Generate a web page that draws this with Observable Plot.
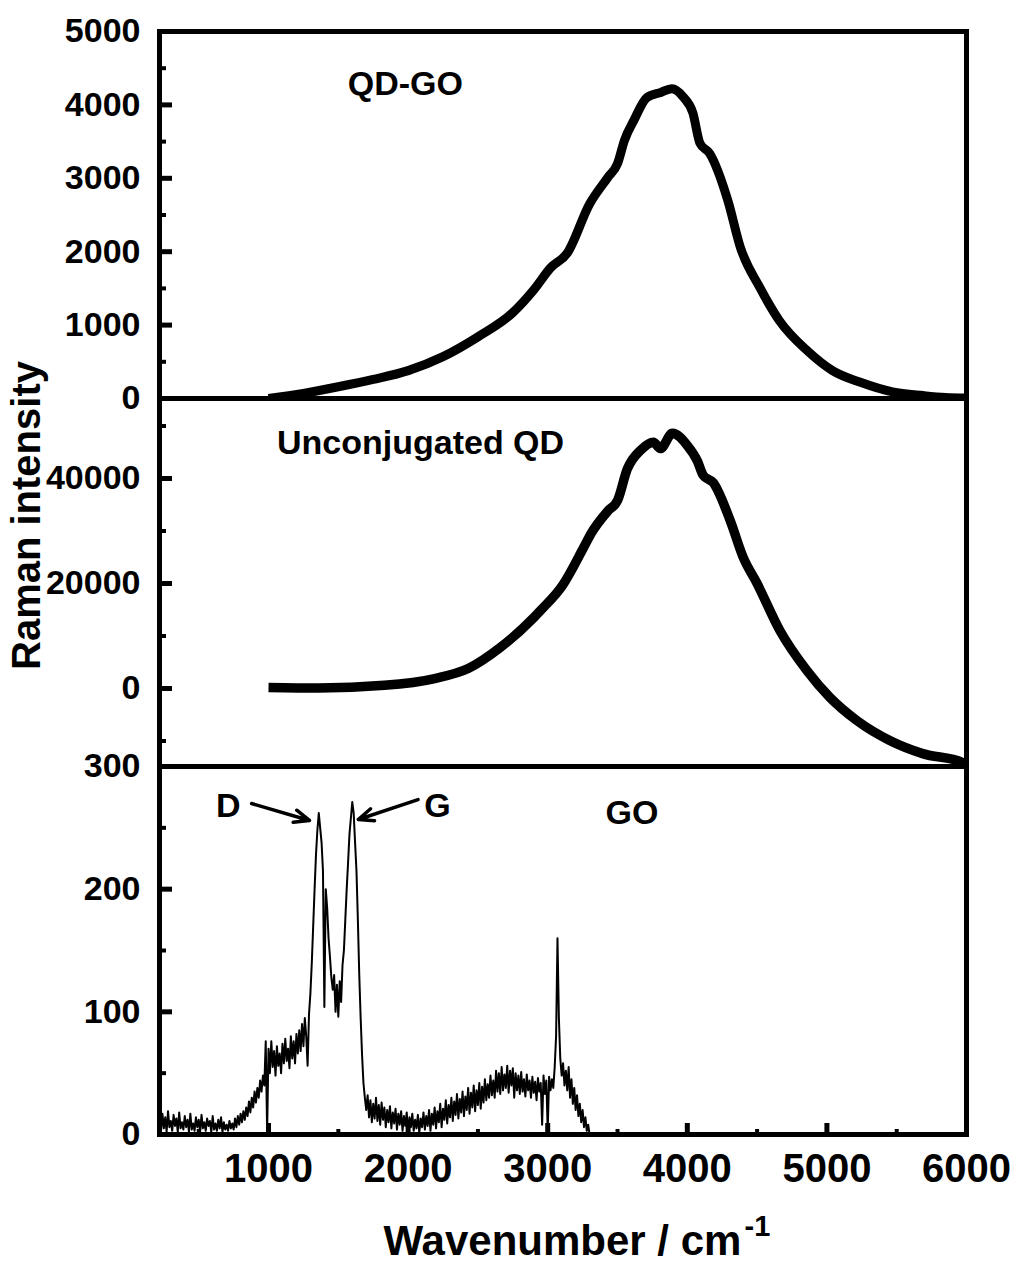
<!DOCTYPE html>
<html>
<head>
<meta charset="utf-8">
<script src="https://cdn.jsdelivr.net/npm/d3@7"></script>
<script src="https://cdn.jsdelivr.net/npm/@observablehq/plot@0.6"></script>
<style>
  body { margin: 0; background: #fff; }
  #chart { position: relative; width: 1018px; height: 1271px; }
  #chart svg { position: absolute; left: 0; top: 0; }
</style>
</head>
<body>
<div id="chart"></div>
<script>
// ---------- data ----------
const xMajor = [1000, 2000, 3000, 4000, 5000, 6000];
const xMinor = [500, 1500, 2500, 3500, 4500, 5500];

const qdgoYMajor = [0, 1000, 2000, 3000, 4000, 5000];
const qdgoYMinor = [500, 1500, 2500, 3500, 4500];
const qdYMajor = [0, 20000, 40000];
const qdYMinor = [-10000, 10000, 30000, 50000];
const goYMajor = [0, 100, 200, 300];
const goYMinor = [50, 150, 250];

// QD-GO spectrum (top panel)
const qdgoWavenumber = [1000, 1250, 1500, 1750, 2000, 2250, 2500, 2750, 2900, 3020, 3140, 3300, 3430, 3500, 3550, 3620, 3710, 3810, 3890, 3970, 4040, 4090, 4160, 4290, 4380, 4520, 4660, 4860, 5040, 5240, 5470, 5690, 5850, 6000];
const qdgoIntensity  = [0, 70, 160, 260, 380, 570, 840, 1170, 1480, 1780, 1980, 2650, 3010, 3200, 3520, 3800, 4100, 4170, 4220, 4110, 3890, 3480, 3340, 2700, 2060, 1510, 1060, 650, 380, 220, 90, 40, 15, 8];

// Unconjugated QD spectrum (middle panel)
const qdWavenumber = [1000, 1360, 1830, 2190, 2430, 2660, 2900, 2950, 3110, 3260, 3310, 3430, 3500, 3570, 3670, 3757, 3807, 3893, 4000, 4071, 4114, 4186, 4307, 4400, 4500, 4664, 4857, 5021, 5214, 5450, 5686, 5971, 6000];
const qdIntensity  = [200, 100, 600, 1900, 3800, 7800, 13500, 14900, 19800, 27000, 29500, 33800, 35800, 41800, 45500, 46900, 45700, 48600, 46300, 43400, 40600, 39200, 32000, 25000, 20000, 11000, 3400, -1700, -6100, -9900, -12400, -14100, -14800];

// GO spectrum (bottom panel), sampled every 10 cm-1 from 220 cm-1
const goStart = 220;
const goStep = 10;
const goIntensity = [
  12, 3, 17, 5, 14, 2, 19, 6, 11, 3,
  16, 7, 13, 2, 18, 5, 10, 4, 15, 6,
  12, 2, 17, 4, 9, 3, 14, 6, 12, 2,
  16, 5, 10, 3, 13, 7, 11, 2, 15, 4,
  9, 3, 12, 5, 14, 2, 10, 4, 8, 3,
  11, 5, 9, 4, 13, 6, 15, 8, 17, 10,
  19, 12, 22, 15, 27, 18, 30, 22, 35, 26,
  38, 30, 44, 35, 48, 40, 76, 2, 70, 50,
  76, 55, 68, 48, 72, 56, 66, 50, 74, 58,
  78, 60, 70, 54, 80, 62, 76, 58, 82, 66,
  85, 68, 90, 72, 95, 80, 56, 98, 115, 140,
  170, 200, 228, 248, 262, 250, 238, 215, 104, 200,
  185, 160, 145, 128, 118, 130, 100, 122, 96, 125,
  108, 138, 150, 175, 200, 222, 245, 258, 271, 262,
  238, 215, 175, 130, 95, 65, 42, 30, 20, 32,
  14, 28, 10, 25, 13, 30, 11, 24, 8, 26,
  12, 22, 6, 20, 10, 23, 5, 18, 9, 21,
  4, 17, 8, 19, 3, 15, 7, 18, 2, 14,
  6, 17, 3, 12, 5, 16, 1, 13, 6, 18,
  4, 15, 7, 20, 3, 17, 8, 22, 5, 19,
  10, 25, 6, 21, 12, 28, 9, 24, 14, 30,
  11, 27, 16, 33, 13, 29, 18, 35, 15, 31,
  20, 38, 17, 34, 22, 40, 19, 36, 24, 42,
  21, 39, 26, 45, 28, 41, 30, 48, 32, 44,
  30, 52, 35, 50, 33, 55, 36, 49, 38, 56,
  34, 52, 40, 54, 30, 50, 36, 48, 33, 51,
  35, 45, 31, 49, 36, 44, 30, 47, 34, 43,
  28, 46, 35, 42, 8, 48, 33, 44, 3, 47,
  36, 45, 38, 55, 80, 160, 95, 62, 48, 58,
  40, 52, 36, 55, 30, 45, 25, 38, 20, 32,
  15, 25, 10, 20, 6, 14, 3, 8, 0
];

// annotations (data coordinates)
const topLabel = [{x: 1980, y: 4285, text: "QD-GO"}];
const midLabel = [{x: 2089, y: 46760, text: "Unconjugated QD"}];
const botLabels = [
  {x: 3604, y: 262, text: "GO"},
  {x: 711, y: 268, text: "D"},
  {x: 2211, y: 268, text: "G"}
];
const arrows = [
  {x1: 879, y1: 269.8, x2: 1293, y2: 256},
  {x1: 2071, y1: 273, x2: 1643, y2: 256.8}
];
const yTitle = ["Raman intensity"];
const xTitle = ["Wavenumber / cm"];
const xTitleSup = ["-1"];

// ---------- tables ----------
const qdgo = qdgoWavenumber.map((x, i) => ({x, y: qdgoIntensity[i]}));
const qd = qdWavenumber.map((x, i) => ({x, y: qdIntensity[i]}));
const go = goIntensity.map((y, i) => ({x: goStart + i * goStep, y}));

// ---------- layout ----------
const W = 1018, H = 1271;
const L = 159, R = 966;
const FONT = "'Liberation Sans', Arial, Helvetica, sans-serif";
const fmt = d3.format("d");

function panel({top, bottom, yDomain, yMajor, yMinor, showX, marks}) {
  return Plot.plot({
    width: W, height: H,
    marginLeft: L, marginRight: W - R,
    marginTop: top, marginBottom: H - bottom,
    style: {background: "transparent", overflow: "visible", fontFamily: FONT, fontWeight: "bold", color: "#000"},
    x: {domain: [219, 6000], label: null, axis: showX ? undefined : null},
    y: {domain: yDomain, label: null},
    marks: [
      Plot.axisY(yMajor, {tickSize: -13, tickPadding: 32, strokeWidth: 5, fontSize: 34, fontWeight: "bold", label: null, tickFormat: fmt}),
      Plot.axisY(yMinor, {tickSize: -7, strokeWidth: 4, fill: "none", label: null}),
      ...(showX ? [
        Plot.axisX(xMajor, {tickSize: -11, tickPadding: 30, strokeWidth: 5, fontSize: 40, fontWeight: "bold", label: null, tickFormat: fmt}),
        Plot.axisX(xMinor, {tickSize: -5, strokeWidth: 4, fill: "none", label: null})
      ] : []),
      ...marks,
      Plot.frame({strokeWidth: 5})
    ]
  });
}

const chart = document.getElementById("chart");

chart.append(panel({
  top: 31, bottom: 398, yDomain: [0, 5000], yMajor: qdgoYMajor, yMinor: qdgoYMinor, showX: false,
  marks: [
    Plot.line(qdgo, {x: "x", y: "y", strokeWidth: 9, curve: "monotone-x", clip: true, strokeLinecap: "butt"}),
    Plot.text(topLabel, {x: "x", y: "y", text: "text", fontSize: 34, fontWeight: "bold"})
  ]
}));

chart.append(panel({
  top: 398, bottom: 766, yDomain: [-14857, 55238], yMajor: qdYMajor, yMinor: qdYMinor, showX: false,
  marks: [
    Plot.line(qd, {x: "x", y: "y", strokeWidth: 9.5, curve: "monotone-x", clip: true, strokeLinecap: "butt"}),
    Plot.text(midLabel, {x: "x", y: "y", text: "text", fontSize: 34, fontWeight: "bold"}),
    Plot.text(yTitle, {text: d => d, frameAnchor: "left", textAnchor: "middle", dx: -132, dy: -67, rotate: -90, fontSize: 40, fontWeight: "bold"})
  ]
}));

chart.append(panel({
  top: 766, bottom: 1134, yDomain: [0, 300], yMajor: goYMajor, yMinor: goYMinor, showX: true,
  marks: [
    Plot.line(go, {x: "x", y: "y", strokeWidth: 2, clip: true}),
    Plot.arrow(arrows, {x1: "x1", y1: "y1", x2: "x2", y2: "y2", strokeWidth: 3.5, headLength: 7, headAngle: 45}),
    Plot.text(botLabels, {x: "x", y: "y", text: "text", fontSize: 34, fontWeight: "bold"}),
    Plot.text(xTitle, {text: d => d, frameAnchor: "bottom-left", textAnchor: "start", lineAnchor: "bottom", dx: 224, dy: 120, fontSize: 42, fontWeight: "bold"}),
    Plot.text(xTitleSup, {text: d => d, frameAnchor: "bottom-left", textAnchor: "start", lineAnchor: "bottom", dx: 585, dy: 101, fontSize: 29, fontWeight: "bold"})
  ]
}));
</script>
</body>
</html>
